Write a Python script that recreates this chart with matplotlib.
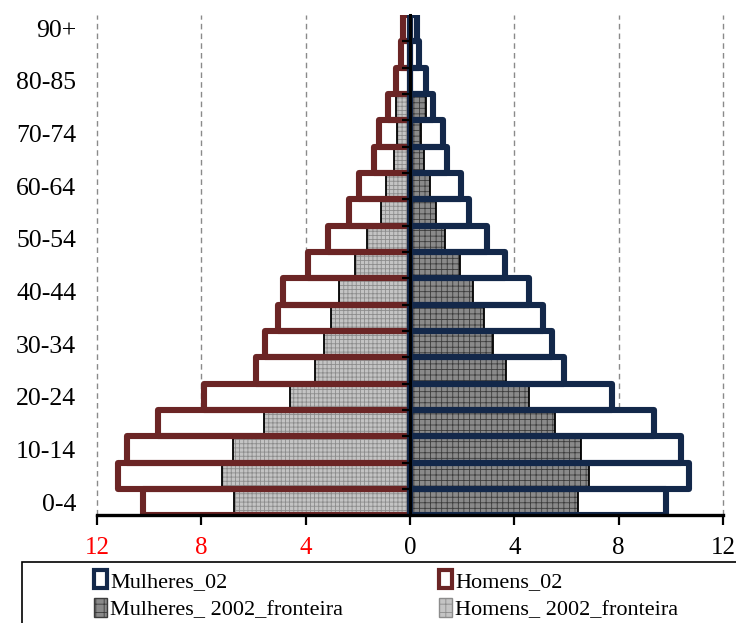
import numpy as np
import matplotlib
matplotlib.use("Agg")
import matplotlib.pyplot as plt
from matplotlib.patches import Patch, Rectangle

plt.rcParams['font.family'] = ['Liberation Serif', 'DejaVu Serif']
plt.rcParams['hatch.linewidth'] = 0.6

# age groups, bottom to top
ages = ['0-4', '5-9', '10-14', '15-19', '20-24', '25-29', '30-34', '35-39',
        '40-44', '45-49', '50-54', '55-59', '60-64', '65-69', '70-74',
        '75-79', '80-85', '85-89', '90+']

# population share (%) per age group
homens_02 = [10.25, 11.2, 10.85, 9.65, 7.9, 5.9, 5.55, 5.05, 4.85, 3.9,
             3.15, 2.35, 1.95, 1.37, 1.19, 0.84, 0.53, 0.34, 0.27]
mulheres_02 = [9.8, 10.7, 10.4, 9.35, 7.75, 5.9, 5.45, 5.1, 4.55, 3.65,
               2.95, 2.25, 1.95, 1.4, 1.27, 0.89, 0.6, 0.35, 0.25]
homens_fr = [6.75, 7.2, 6.8, 5.6, 4.6, 3.65, 3.3, 3.03, 2.72, 2.12,
             1.66, 1.12, 0.92, 0.6, 0.48, 0.54, 0.0, 0.0, 0.0]
mulheres_fr = [6.45, 6.85, 6.55, 5.55, 4.58, 3.67, 3.19, 2.84, 2.43, 1.92,
               1.36, 1.0, 0.75, 0.52, 0.42, 0.62, 0.0, 0.0, 0.0]

xticks = [-12, -8, -4, 0, 4, 8, 12]
xticklabels = ['12', '8', '4', '0', '4', '8', '12']

RED = '#6b2525'
NAVY = '#13284a'
LIGHT_FACE, LIGHT_HATCH = '#c4c4c4', '#8c8c8c'
DARK_FACE, DARK_HATCH = '#8a8a8a', '#3c3c3c'

y = np.arange(len(ages))
h_02 = -np.array(homens_02)
h_fr = -np.array(homens_fr)
m_02 = np.array(mulheres_02)
m_fr = np.array(mulheres_fr)

fig = plt.figure(figsize=(7.36, 6.23), dpi=100)
ax = fig.add_axes([0.1318, 0.173, 0.8505, 0.803])

# white boxes underneath
ax.barh(y, h_02, height=1.0, color='white', linewidth=0, zorder=1)
ax.barh(y, m_02, height=1.0, color='white', linewidth=0, zorder=1)

# 2002 fronteira, hatched grey
ax.barh(y, h_fr, height=1.0, color=LIGHT_FACE, edgecolor=LIGHT_HATCH,
        hatch='++++', linewidth=0, zorder=2)
ax.barh(y, m_fr, height=1.0, color=DARK_FACE, edgecolor=DARK_HATCH,
        hatch='+++', linewidth=0, zorder=2)
ax.barh(y, h_fr, height=1.0, fill=False, edgecolor='black', linewidth=1.3, zorder=3)
ax.barh(y, m_fr, height=1.0, fill=False, edgecolor='black', linewidth=1.3, zorder=3)

# thick outlines of the 02 series
ax.barh(y, h_02, height=1.0, fill=False, edgecolor=RED, linewidth=4.4,
        joinstyle='round', zorder=4)
ax.barh(y, m_02, height=1.0, fill=False, edgecolor=NAVY, linewidth=4.4,
        joinstyle='round', zorder=4)

ax.set_xlim(-12, 12)
ax.set_ylim(-0.5, len(ages) - 0.5)

ax.set_xticks(xticks)
ax.set_xticklabels(xticklabels, fontsize=18)
for lbl, v in zip(ax.get_xticklabels(), xticks):
    if v < 0:
        lbl.set_color('red')
ax.tick_params(axis='x', direction='out', length=7, width=1.6, pad=9)

ax.set_yticks(y[::2])
ax.set_yticklabels(ages[::2], fontsize=18.5)
ax.tick_params(axis='y', length=0, pad=15)

ax.grid(axis='x', color='#8a8a8a', linestyle=(0, (4, 3)), linewidth=1.0, zorder=0)
ax.set_axisbelow(True)
for gl in ax.get_xgridlines():
    gl.set_clip_on(False)
for side in ['left', 'right', 'top']:
    ax.spines[side].set_visible(False)
ax.spines['bottom'].set_linewidth(2.4)
ax.spines['bottom'].set_zorder(6)

# central category axis with ticks between groups
sec = ax.secondary_yaxis(0.5)
sec.set_yticks(np.arange(len(ages) - 1) + 0.5)
sec.set_yticklabels([])
sec.tick_params(axis='y', direction='out', length=6, width=1.6, left=True,
                right=False)
sec.spines['left'].set_linewidth(2.2)
sec.spines['right'].set_linewidth(2.2)
sec.set_zorder(5)

# legend
handles = [
    Patch(facecolor='white', edgecolor=NAVY, linewidth=3, label='Mulheres_02'),
    Patch(facecolor=DARK_FACE, edgecolor=DARK_HATCH, hatch='++',
          label='Mulheres_ 2002_fronteira'),
    Patch(facecolor='white', edgecolor=RED, linewidth=3, label='Homens_02'),
    Patch(facecolor=LIGHT_FACE, edgecolor=LIGHT_HATCH, hatch='++',
          label='Homens_ 2002_fronteira'),
]
fig.patches.append(Rectangle((0.03, -0.01), 0.99, 0.108, transform=fig.transFigure,
                             fill=False, edgecolor='black', linewidth=1.2))
fig.legend(handles=handles, ncol=2, loc='upper left',
           bbox_to_anchor=(0.106, 0.11), frameon=False, fontsize=16,
           handlelength=0.6, handleheight=0.9, handletextpad=0.15,
           columnspacing=4.3, labelspacing=0.28, borderpad=0.2)

fig.savefig('out.png', dpi=100)
